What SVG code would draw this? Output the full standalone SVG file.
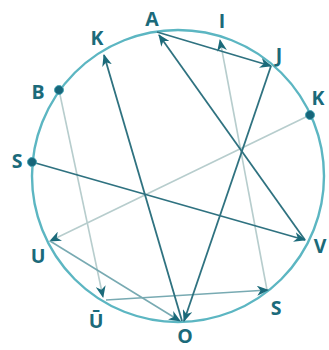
<svg xmlns="http://www.w3.org/2000/svg" width="329" height="350" viewBox="0 0 329 350">
<style>
.lbl{font-family:"Open Sans","Liberation Sans",sans-serif;font-weight:bold;font-size:19.5px;fill:#1b6a7a;text-anchor:middle}
.dk{stroke:#2f7280;stroke-width:1.8;fill:none}
.md{stroke:#78aab2;stroke-width:1.5;fill:none}
.lt{stroke:#b7cdcd;stroke-width:1.6;fill:none}
.dot{fill:#17667a;stroke:#4aa5b5;stroke-width:1}
</style>
<defs>
<marker id="ah" viewBox="0 0 12 10" refX="11" refY="5" markerWidth="12" markerHeight="10" markerUnits="userSpaceOnUse" orient="auto">
<path d="M0,0 L12,5 L0,10 L3.5,5 Z" fill="#1b6a7a"/>
</marker>
</defs>
<g id="circle"><circle cx="178" cy="176" r="146" fill="none" stroke="#5cb6c2" stroke-width="2.4"/></g>
<g id="connectors">
<line class="lt" x1="267" y1="290" x2="220" y2="40" marker-end="url(#ah)"/>
<line class="lt" x1="59" y1="90" x2="103" y2="297" marker-end="url(#ah)"/>
<line class="lt" x1="310" y1="115" x2="50" y2="241" marker-end="url(#ah)"/>
<line class="md" x1="50" y1="241" x2="180" y2="321" marker-end="url(#ah)"/>
<line class="md" x1="106" y1="300" x2="268" y2="290" marker-end="url(#ah)"/>
<line class="dk" x1="157" y1="32" x2="271" y2="66" marker-end="url(#ah)"/>
<line class="dk" x1="305" y1="240" x2="159" y2="35" marker-end="url(#ah)"/>
<line class="dk" x1="271" y1="66" x2="184" y2="321" marker-end="url(#ah)"/>
<line class="dk" x1="182" y1="321" x2="104" y2="55" marker-end="url(#ah)"/>
<line class="dk" x1="32" y1="162" x2="305" y2="240" marker-end="url(#ah)"/>
</g>
<g id="node-A"><text class="lbl" x="152" y="26">A</text></g>
<g id="node-I"><text class="lbl" x="222" y="28">I</text></g>
<g id="node-J"><text class="lbl" x="279" y="62">J</text></g>
<g id="node-K1"><text class="lbl" x="97" y="45">K</text></g>
<g id="node-B"><circle class="dot" cx="59" cy="90" r="4.5"/><text class="lbl" x="38" y="99">B</text></g>
<g id="node-K2"><circle class="dot" cx="310" cy="115" r="4.5"/><text class="lbl" x="318" y="105">K</text></g>
<g id="node-S1"><circle class="dot" cx="32" cy="162" r="4.5"/><text class="lbl" x="17" y="168">S</text></g>
<g id="node-U"><text class="lbl" x="38" y="263">U</text></g>
<g id="node-V"><text class="lbl" x="320" y="253">V</text></g>
<g id="node-U2"><text class="lbl" x="96" y="328">Ū</text></g>
<g id="node-S2"><text class="lbl" x="276" y="315">S</text></g>
<g id="node-O"><text class="lbl" x="185" y="343">O</text></g>
</svg>
